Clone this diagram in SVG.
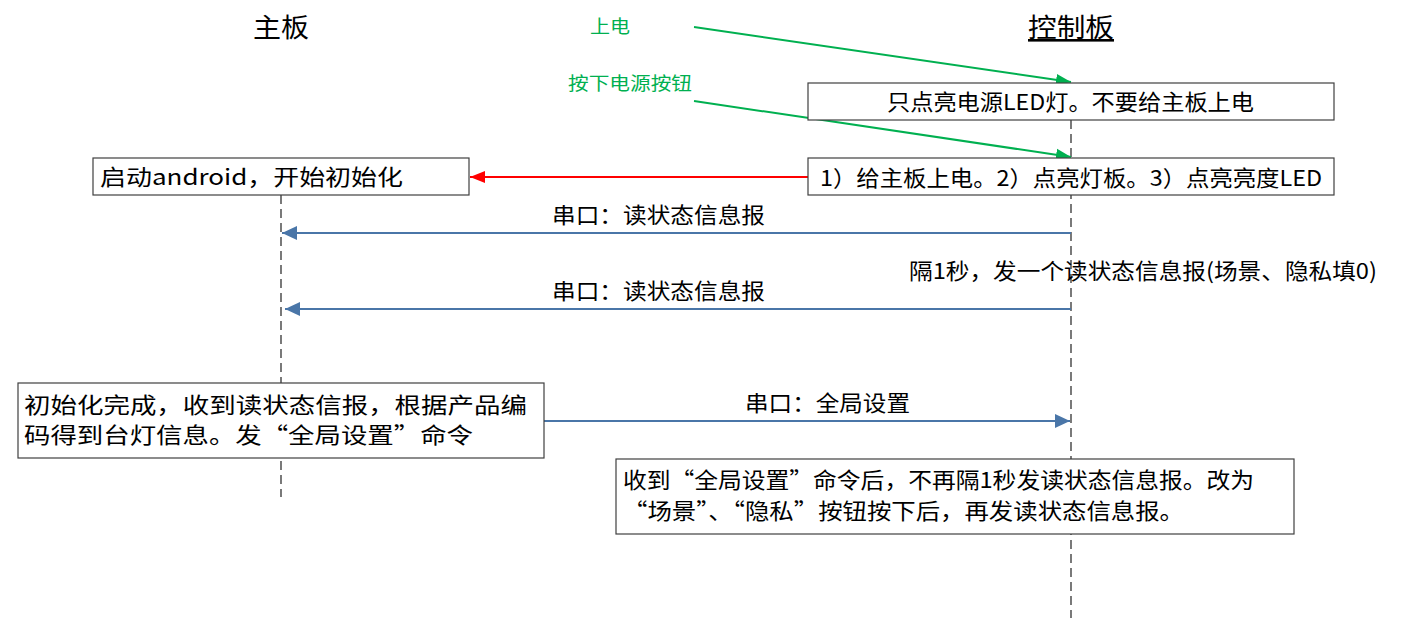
<svg xmlns="http://www.w3.org/2000/svg" width="1401" height="618" viewBox="0 0 1401 618">
<defs>
<style>
text{font-family:"Noto Sans CJK SC","Microsoft YaHei","Liberation Sans",sans-serif;fill:#000}
.t22{font-size:22px}
.hd{font-size:26px}
.gr{font-size:18px;fill:#00b050}
.box{fill:#fff;stroke:#404040;stroke-width:1.2}
.life{stroke:#222;stroke-width:1.2;stroke-dasharray:9,5;fill:none}
.blue{stroke:#4a76a8;stroke-width:2;fill:none}
.green{stroke:#00b050;stroke-width:2;fill:none}
.red{stroke:#ff0000;stroke-width:2;fill:none}
</style>
<marker id="mb" markerWidth="16" markerHeight="14" refX="15" refY="7" orient="auto" markerUnits="userSpaceOnUse"><path d="M0,0 L15,7 L0,14 Z" fill="#4a76a8"/></marker>
<marker id="mg" markerWidth="16" markerHeight="14" refX="15" refY="7" orient="auto" markerUnits="userSpaceOnUse"><path d="M0,1 L15,7 L0,13 Z" fill="#00b050"/></marker>
<marker id="mr" markerWidth="16" markerHeight="14" refX="15" refY="7" orient="auto" markerUnits="userSpaceOnUse"><path d="M0,1 L15,7 L0,13 Z" fill="#ff0000"/></marker>
</defs>
<rect width="1401" height="618" fill="#fff"/>

<g id="lifelines">
<line class="life" x1="281" y1="195" x2="281" y2="497"/>
<line class="life" x1="1071" y1="120" x2="1071" y2="618"/>
</g>

<g id="header-main"><text class="hd" x="253" y="37" textLength="56" lengthAdjust="spacingAndGlyphs">主板</text></g>
<g id="header-ctrl"><text class="hd" x="1028" y="37" textLength="86" lengthAdjust="spacingAndGlyphs" text-decoration="underline">控制板</text></g>

<g id="label-power"><text class="gr" x="590" y="33" textLength="40" lengthAdjust="spacingAndGlyphs">上电</text></g>
<g id="label-button"><text class="gr" x="568" y="90" textLength="124" lengthAdjust="spacingAndGlyphs">按下电源按钮</text></g>

<g id="connectors">
<line class="green" x1="694" y1="27" x2="1071" y2="82" marker-end="url(#mg)"/>
<line class="green" x1="694" y1="101" x2="1071" y2="157" marker-end="url(#mg)"/>
<line class="red" x1="808" y1="177" x2="470" y2="177" marker-end="url(#mr)"/>
<line class="blue" x1="1071" y1="233" x2="282" y2="233" marker-end="url(#mb)"/>
<line class="blue" x1="1071" y1="309" x2="285" y2="309" marker-end="url(#mb)"/>
<line class="blue" x1="544" y1="421" x2="1070" y2="421" marker-end="url(#mb)"/>
</g>

<g id="node-a">
<rect class="box" x="808" y="83" width="526" height="37"/>
<text class="t22" x="887" y="110" textLength="367" lengthAdjust="spacingAndGlyphs">只点亮电源LED灯。不要给主板上电</text>
</g>
<g id="node-b">
<rect class="box" x="808" y="158" width="526" height="37"/>
<text class="t22" x="820" y="186" textLength="502" lengthAdjust="spacingAndGlyphs">1）给主板上电。2）点亮灯板。3）点亮亮度LED</text>
</g>
<g id="node-c">
<rect class="box" x="93" y="158" width="376" height="37"/>
<text class="t22" x="100" y="185" textLength="303" lengthAdjust="spacingAndGlyphs">启动android，开始初始化</text>
</g>

<g id="label-read1"><text class="t22" x="552" y="223" textLength="213" lengthAdjust="spacingAndGlyphs">串口：读状态信息报</text></g>
<g id="label-read2"><text class="t22" x="552" y="299" textLength="213" lengthAdjust="spacingAndGlyphs">串口：读状态信息报</text></g>
<g id="label-interval"><text class="t22" x="909" y="279" textLength="468" lengthAdjust="spacingAndGlyphs">隔1秒，发一个读状态信息报(场景、隐私填0)</text></g>
<g id="label-global"><text class="t22" x="745" y="411" textLength="165" lengthAdjust="spacingAndGlyphs">串口：全局设置</text></g>

<g id="node-d">
<rect class="box" x="18" y="383" width="526" height="75"/>
<text class="t22" x="24" y="413" textLength="503" lengthAdjust="spacingAndGlyphs">初始化完成，收到读状态信报，根据产品编</text>
<text class="t22" x="24" y="443" textLength="449" lengthAdjust="spacingAndGlyphs">码得到台灯信息。发“全局设置”命令</text>
</g>
<g id="node-e">
<rect class="box" x="616" y="459" width="678" height="75"/>
<text class="t22" x="623" y="488" textLength="631" lengthAdjust="spacingAndGlyphs">收到“全局设置”命令后，不再隔1秒发读状态信息报。改为</text>
<text class="t22" x="623" y="519" textLength="561" lengthAdjust="spacingAndGlyphs">“场景”、“隐私”按钮按下后，再发读状态信息报。</text>
</g>
</svg>
